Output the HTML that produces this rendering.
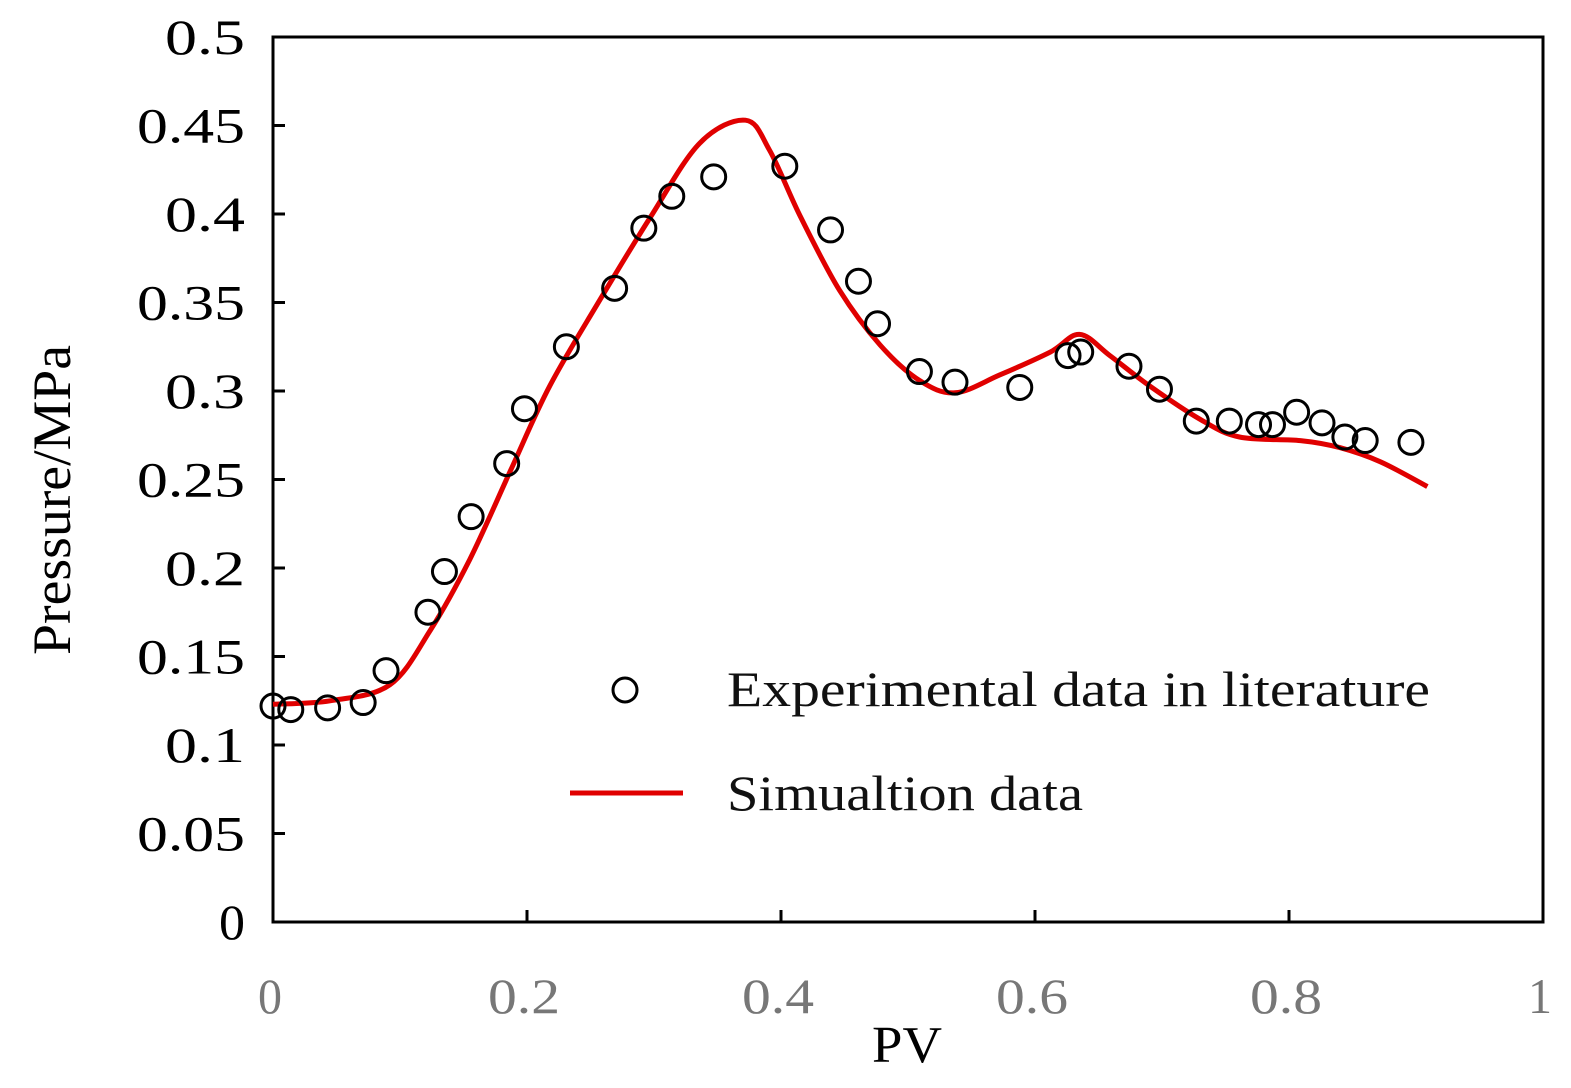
<!DOCTYPE html>
<html><head><meta charset="utf-8"><style>
html,body{margin:0;padding:0;background:#fff;}
svg{display:block;font-family:"Liberation Serif",serif;}
</style></head><body>
<svg id="chart" width="1571" height="1088" viewBox="0 0 1571 1088">
<rect x="273" y="37" width="1270" height="885" fill="none" stroke="#000" stroke-width="3"/>
<g id="yticks"></g>
<g id="xticks"></g>
<g id="series"></g>
<text x="70" y="500" font-size="54" text-anchor="middle" textLength="310" lengthAdjust="spacingAndGlyphs" transform="rotate(-90 70 500)">Pressure/MPa</text>
<text x="907" y="1062" font-size="52" text-anchor="middle" textLength="70" lengthAdjust="spacingAndGlyphs">PV</text>
<g>
<circle cx="625" cy="690" r="12" fill="none" stroke="#000" stroke-width="3"/>
<text x="727" y="706" font-size="50" fill="#111" textLength="703" lengthAdjust="spacingAndGlyphs">Experimental data in  literature</text>
<line x1="570" y1="793" x2="683" y2="793" stroke="#e00000" stroke-width="5"/>
<text x="727" y="810" font-size="50" fill="#111" textLength="356" lengthAdjust="spacingAndGlyphs">Simualtion data</text>
</g>
</svg>
<script>
const xTicks=[0,0.2,0.4,0.6,0.8,1];
const xTickLabels=["0","0.2","0.4","0.6","0.8","1"];
const yTicks=[0,0.05,0.1,0.15,0.2,0.25,0.3,0.35,0.4,0.45,0.5];
const yTickLabels=["0","0.05","0.1","0.15","0.2","0.25","0.3","0.35","0.4","0.45","0.5"];
const expX=[0,0.014,0.043,0.071,0.089,0.122,0.135,0.156,0.184,0.198,0.231,0.269,0.292,0.314,0.347,0.403,0.439,0.461,0.476,0.509,0.537,0.588,0.626,0.636,0.674,0.698,0.727,0.753,0.776,0.787,0.806,0.826,0.844,0.860,0.896];
const expY=[0.122,0.120,0.121,0.124,0.142,0.175,0.198,0.229,0.259,0.290,0.325,0.358,0.392,0.410,0.421,0.427,0.391,0.362,0.338,0.311,0.305,0.302,0.320,0.322,0.314,0.301,0.283,0.283,0.281,0.281,0.288,0.282,0.274,0.272,0.271];
const simX=[0,0.045,0.092,0.124,0.155,0.187,0.218,0.257,0.297,0.336,0.372,0.391,0.415,0.446,0.478,0.509,0.537,0.572,0.612,0.635,0.659,0.690,0.730,0.761,0.809,0.840,0.872,0.909];
const simY=[0.123,0.125,0.134,0.165,0.205,0.255,0.303,0.351,0.398,0.440,0.453,0.436,0.399,0.357,0.326,0.306,0.299,0.309,0.322,0.332,0.320,0.303,0.284,0.274,0.272,0.268,0.260,0.246];
const X=v=>273+v*1270, Y=v=>922-v*1770;
const NS="http://www.w3.org/2000/svg";
function mk(t,a,p){const e=document.createElementNS(NS,t);for(const k in a)e.setAttribute(k,a[k]);p.appendChild(e);return e;}
const yg=document.getElementById('yticks'), xg=document.getElementById('xticks'), sg=document.getElementById('series');
yTicks.forEach((v,i)=>{
 const t=mk('line',{x1:273,x2:285,y1:Y(v),y2:Y(v),stroke:'#000','stroke-width':3},yg);
 
 
 const s=yTickLabels[i];
 const w=s.length===1?26:s.length===3?80:108;
 const l=mk('text',{x:245-w,y:Y(v)+17,'font-size':50,textLength:w,lengthAdjust:'spacingAndGlyphs'},yg);
 l.textContent=s;
 
 
});
xTicks.forEach((v,i)=>{
 const t=mk('line',{x1:X(v),x2:X(v),y1:922,y2:910,stroke:'#000','stroke-width':3},xg);
 
 
 const s=xTickLabels[i];
 const w=s.length===1?24:72;
 const l=mk('text',{x:X(v)-3-w/2,y:1013,'font-size':50,fill:'#777',textLength:w,lengthAdjust:'spacingAndGlyphs'},xg);
 l.textContent=s;
 
 
});
const P=simX.map((v,i)=>[X(v),Y(simY[i])]);
let d='M'+P[0][0]+' '+P[0][1];
for(let i=0;i<P.length-1;i++){
 const p0=P[Math.max(0,i-1)],p1=P[i],p2=P[i+1],p3=P[Math.min(P.length-1,i+2)];
 const c1=[p1[0]+(p2[0]-p0[0])/6,p1[1]+(p2[1]-p0[1])/6],c2=[p2[0]-(p3[0]-p1[0])/6,p2[1]-(p3[1]-p1[1])/6];
 d+=` C${c1[0].toFixed(1)} ${c1[1].toFixed(1)} ${c2[0].toFixed(1)} ${c2[1].toFixed(1)} ${p2[0].toFixed(1)} ${p2[1].toFixed(1)}`;
}
const p=mk('path',{d:d,fill:'none',stroke:'#e00000','stroke-width':5,'stroke-linejoin':'round'},sg);


expX.forEach((v,i)=>{
 const c=mk('circle',{cx:X(v),cy:Y(expY[i]),r:12,fill:'none',stroke:'#000','stroke-width':3},sg);
 
 
});
</script>
</body></html>
